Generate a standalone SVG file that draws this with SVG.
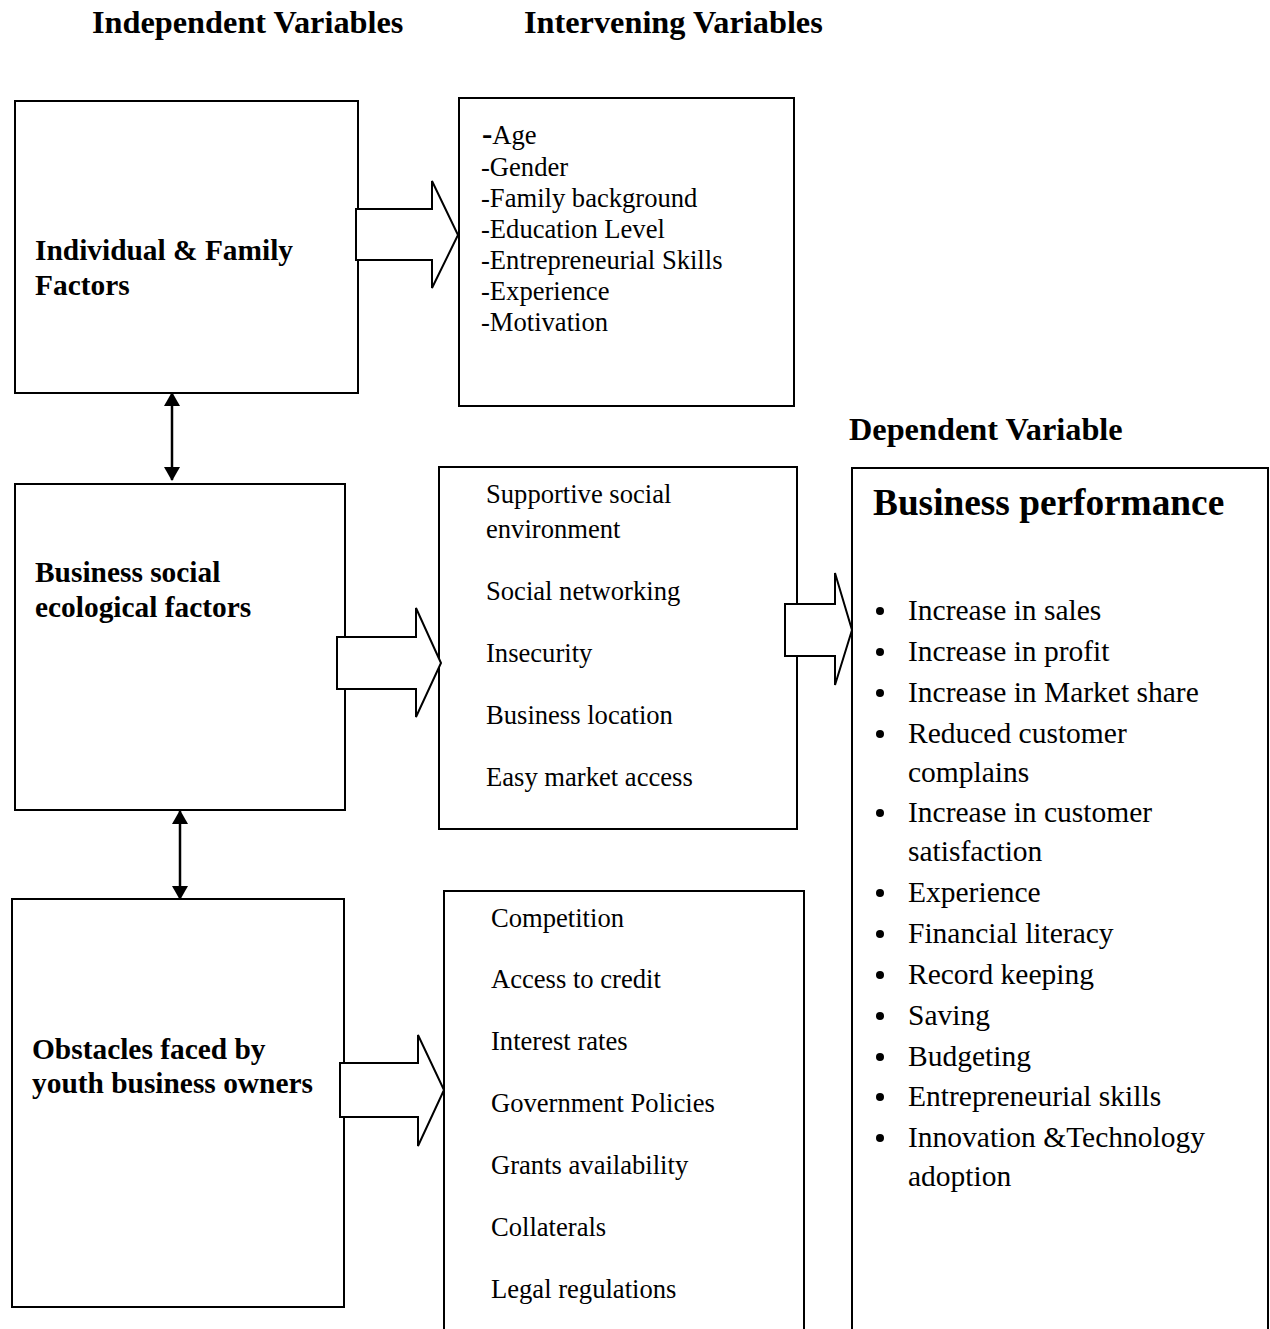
<svg xmlns="http://www.w3.org/2000/svg" width="1270" height="1329" viewBox="0 0 1270 1329">
<style>
.box{fill:#fff;stroke:#000;stroke-width:2}
.arr{fill:#fff;stroke:#000;stroke-width:2;stroke-linejoin:miter}
.t{font-family:"Liberation Serif","Times New Roman",serif;fill:#000}
.h{font-size:32.3px;font-weight:bold}
.b{font-size:29.4px;font-weight:bold}
.l{font-size:26.6px}
.r{font-size:29.5px}
.line{stroke:#000;stroke-width:2.5;fill:none}
.dot{fill:#000}
</style>
<defs>
<marker id="ah" viewBox="0 0 14 16" refX="13" refY="8" markerWidth="14" markerHeight="16" orient="auto-start-reverse" markerUnits="userSpaceOnUse">
<path d="M0,0 L14,8 L0,16 z" fill="#000"/>
</marker>
</defs>
<rect width="1270" height="1329" fill="#fff"/>
<g id="headers">
<text class="t h" x="92" y="33">Independent Variables</text>
<text class="t h" x="524" y="33">Intervening Variables</text>
<text class="t h" x="849" y="440">Dependent Variable</text>
</g>
<g id="node-individual">
<rect class="box" x="15" y="101" width="343" height="292"/>
<text class="t b" x="35" y="260">Individual &amp; Family</text>
<text class="t b" x="35" y="295">Factors</text>
</g>
<g id="node-individual-vars">
<rect class="box" x="459" y="98" width="335" height="308"/>
<text class="t l" x="482" y="144"><tspan font-weight="bold" font-size="31px">-</tspan>Age</text>
<text class="t l" x="481" y="176">-Gender</text>
<text class="t l" x="481" y="207">-Family background</text>
<text class="t l" x="481" y="238">-Education Level</text>
<text class="t l" x="481" y="269">-Entrepreneurial Skills</text>
<text class="t l" x="481" y="300">-Experience</text>
<text class="t l" x="481" y="331">-Motivation</text>
</g>
<g id="node-social">
<rect class="box" x="15" y="484" width="330" height="326"/>
<text class="t b" x="35" y="582">Business social</text>
<text class="t b" x="35" y="617">ecological factors</text>
</g>
<g id="node-social-vars">
<rect class="box" x="439" y="467" width="358" height="362"/>
<text class="t l" x="486" y="503">Supportive social</text>
<text class="t l" x="486" y="538">environment</text>
<text class="t l" x="486" y="600">Social networking</text>
<text class="t l" x="486" y="662">Insecurity</text>
<text class="t l" x="486" y="724">Business location</text>
<text class="t l" x="486" y="786">Easy market access</text>
</g>
<g id="node-obstacles">
<rect class="box" x="12" y="899" width="332" height="408"/>
<text class="t b" x="32" y="1059">Obstacles faced by</text>
<text class="t b" x="32" y="1093">youth business owners</text>
</g>
<g id="node-obstacle-vars">
<path class="box" d="M444,1329 V891 H804 V1329"/>
<text class="t l" x="491" y="927">Competition</text>
<text class="t l" x="491" y="988">Access to credit</text>
<text class="t l" x="491" y="1050">Interest rates</text>
<text class="t l" x="491" y="1112">Government Policies</text>
<text class="t l" x="491" y="1174">Grants availability</text>
<text class="t l" x="491" y="1236">Collaterals</text>
<text class="t l" x="491" y="1298">Legal regulations</text>
</g>
<g id="node-performance">
<path class="box" d="M852,1329 V468 H1268 V1329"/>
<text class="t" x="873" y="515" font-size="37.3px" font-weight="bold">Business performance</text>
<g class="dot">
<circle cx="880" cy="611" r="4"/>
<circle cx="880" cy="652" r="4"/>
<circle cx="880" cy="693" r="4"/>
<circle cx="880" cy="734" r="4"/>
<circle cx="880" cy="813" r="4"/>
<circle cx="880" cy="893" r="4"/>
<circle cx="880" cy="934" r="4"/>
<circle cx="880" cy="975" r="4"/>
<circle cx="880" cy="1016" r="4"/>
<circle cx="880" cy="1057" r="4"/>
<circle cx="880" cy="1097" r="4"/>
<circle cx="880" cy="1138" r="4"/>
</g>
<g class="t r">
<text x="908" y="620">Increase in sales</text>
<text x="908" y="661">Increase in profit</text>
<text x="908" y="702">Increase in Market share</text>
<text x="908" y="743">Reduced customer</text>
<text x="908" y="782">complains</text>
<text x="908" y="822">Increase in customer</text>
<text x="908" y="861">satisfaction</text>
<text x="908" y="902">Experience</text>
<text x="908" y="943">Financial literacy</text>
<text x="908" y="984">Record keeping</text>
<text x="908" y="1025">Saving</text>
<text x="908" y="1066">Budgeting</text>
<text x="908" y="1106">Entrepreneurial skills</text>
<text x="908" y="1147">Innovation &amp;Technology</text>
<text x="908" y="1186">adoption</text>
</g>
</g>
<g id="connectors">
<path class="arr" d="M356,209 H432 V181 L458,235 L432,288 V260 H356 Z"/>
<path class="arr" d="M337,637 H416 V608 L441,663 L416,717 V689 H337 Z"/>
<path class="arr" d="M785,604 H835 V573 L852,630 L835,685 V656 H785 Z"/>
<path class="arr" d="M340,1063 H418 V1035 L444,1090 L418,1146 V1117 H340 Z"/>
<line class="line" x1="172" y1="393" x2="172" y2="480" marker-start="url(#ah)" marker-end="url(#ah)"/>
<line class="line" x1="180" y1="811" x2="180" y2="899" marker-start="url(#ah)" marker-end="url(#ah)"/>
</g>
</svg>
